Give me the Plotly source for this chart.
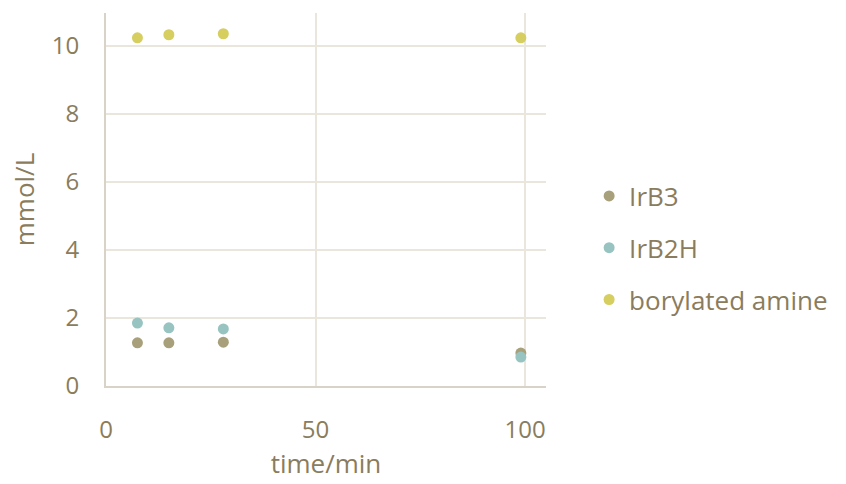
import plotly.graph_objects as go

# Reaction time points (min)
time_min = [7.5, 15, 28, 99]

# Concentrations (mmol/L)
irb3 = [1.27, 1.27, 1.29, 0.97]
irb2h = [1.85, 1.71, 1.68, 0.85]
borylated_amine = [10.24, 10.33, 10.36, 10.24]

series_names = ["IrB3", "IrB2H", "borylated amine"]
series_colors = ["#A8A07A", "#97C4C1", "#D6CE5E"]

text_color = "#8A7C5C"
grid_color = "#EAE6DC"
axis_color = "#D8D3C6"
font_family = "'Open Sans', Lato, sans-serif"

fig = go.Figure()
for name, vals, col in zip(series_names, [irb3, irb2h, borylated_amine], series_colors):
    fig.add_trace(go.Scatter(
        x=time_min, y=vals, mode="markers", name=name, legendgroup=name,
        marker=dict(size=11, color=col),
    ))

fig.update_layout(
    width=846, height=484,
    margin=dict(l=106, r=300, t=13, b=98),
    paper_bgcolor="white", plot_bgcolor="white",
    font=dict(family=font_family, color=text_color, size=22),
    showlegend=True,
    legend=dict(x=1.098, y=0.37, xanchor="left", yanchor="middle",
                font=dict(size=26, color=text_color), tracegroupgap=15,
                itemwidth=30),
    xaxis=dict(
        range=[0, 105], tickvals=[0, 50, 100],
        showgrid=True, gridcolor=grid_color, gridwidth=2,
        zeroline=False, showline=True, linecolor=axis_color, linewidth=2,
        title=dict(text="time/min", font=dict(size=26, color=text_color), standoff=8),
        tickfont=dict(size=24, color=text_color),
        ticks="outside", ticklen=21, tickcolor="white",
    ),
    yaxis=dict(
        range=[0, 10.97], tickvals=[0, 2, 4, 6, 8, 10],
        showgrid=True, gridcolor=grid_color, gridwidth=2,
        zeroline=False, showline=True, linecolor=axis_color, linewidth=2,
        title=dict(text="mmol/L", font=dict(size=26, color=text_color), standoff=10),
        tickfont=dict(size=24, color=text_color),
        ticks="outside", ticklen=20, tickcolor="white",
    ),
)

fig.write_html("out.html")
